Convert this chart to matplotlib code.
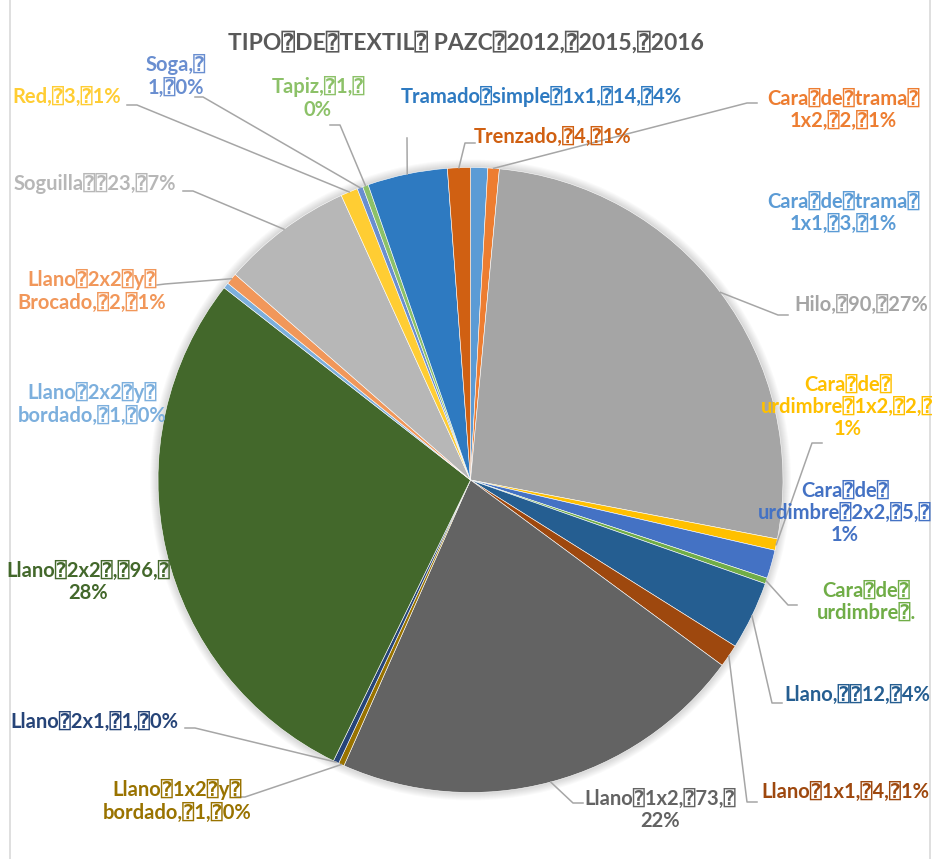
import matplotlib
matplotlib.use("Agg")
import matplotlib.pyplot as plt
from matplotlib.patches import Circle
import numpy as np

B = "\u2370"  # the tofu box that stands in for spaces in the original

categories = ["Cara de trama 1x1", "Cara de trama 1x2", "Hilo", "Cara de urdimbre 1x2",
              "Cara de urdimbre 2x2", "Cara de urdimbre", "Llano", "Llano 1x1", "Llano 1x2",
              "Llano 1x2 y bordado", "Llano 2x1", "Llano 2x2", "Llano 2x2 y bordado",
              "Llano 2x2 y Brocado", "Soguilla", "Red", "Soga", "Tapiz",
              "Tramado simple 1x1", "Trenzado"]
values = [3, 2, 90, 2, 5, 1, 12, 4, 73, 1, 1, 96, 1, 2, 23, 3, 1, 1, 14, 4]
colors = ["#5B9BD5", "#ED7D31", "#A5A5A5", "#FFC000", "#4472C4", "#70AD47",
          "#255E91", "#9E480E", "#636363", "#997300", "#264478", "#43682B",
          "#7CAFDD", "#F1975A", "#B7B7B7", "#FFCD33", "#698ED0", "#8CC168",
          "#2E7AC1", "#D06012"]
labels = [
    f"Cara{B}de{B}trama{B}\n1x1,{B}3,{B}1%",
    f"Cara{B}de{B}trama{B}\n1x2,{B}2,{B}1%",
    f"Hilo,{B}90,{B}27%",
    f"Cara{B}de{B}\nurdimbre{B}1x2,{B}2,{B}\n1%",
    f"Cara{B}de{B}\nurdimbre{B}2x2,{B}5,{B}\n1%",
    f"Cara{B}de{B}\nurdimbre{B}.",
    f"Llano,{B}{B}12,{B}4%",
    f"Llano{B}1x1,{B}4,{B}1%",
    f"Llano{B}1x2,{B}73,{B}\n22%",
    f"Llano{B}1x2{B}y{B}\nbordado,{B}1,{B}0%",
    f"Llano{B}2x1,{B}1,{B}0%",
    f"Llano{B}2x2{B},{B}96,{B}\n28%",
    f"Llano{B}2x2{B}y{B}\nbordado,{B}1,{B}0%",
    f"Llano{B}2x2{B}y{B}\nBrocado,{B}2,{B}1%",
    f"Soguilla{B}{B}23,{B}7%",
    f"Red,{B}3,{B}1%",
    f"Soga,{B}\n1,{B}0%",
    f"Tapiz,{B}1,{B}\n0%",
    f"Tramado{B}simple{B}1x1,{B}14,{B}4%",
    f"Trenzado,{B}4,{B}1%",
]
title = f"TIPO{B}DE{B}TEXTIL{B} PAZC{B}2012,{B}2015,{B}2016"

# layout in pixels (y measured from top)
label_pos = [(843, 213), (843, 110), (861, 305), (848, 407), (845, 513), (866, 602),
             (857, 695), (845, 792), (660, 810), (177, 801), (94, 722), (88, 582),
             (92, 404), (92, 291), (95, 183), (67, 97), (176, 76), (318, 98),
             (541, 96), (553, 137)]
leaders = [None, ((747, 103), (757, 103)), ((778, 315), (788, 315)),
           ((812, 443), (822, 443)), None, ((788, 605), (797, 605)),
           ((772, 703), (782, 703)), ((747, 802), (757, 802)),
           ((573, 803), (583, 803)), ((245, 797), (235, 797)),
           ((195, 728), (185, 728)), None, None, ((165, 284), (157, 285)),
           ((193, 191), (183, 191)), ((137, 105), (127, 105)),
           ((203, 97), (195, 97)), ((340, 125), (330, 125)),
           ((407, 138), (407, 138)), ((465, 143), (475, 143))]

FONT = ["Lato", "DejaVu Sans", "DejaVu Sans Mono"]
W, H = 932, 859
fig = plt.figure(figsize=(W / 100, H / 100), dpi=100)
ax = fig.add_axes([0, 0, 1, 1])
cx, cy, R = 470.5, H - 480, 312.5

# soft shadow round the pie
for k in range(1, 9):
    ax.add_patch(Circle((cx, cy), R + k, color="black", alpha=0.018, lw=0, zorder=0))

wedges, _ = ax.pie(values, colors=colors, startangle=90, counterclock=False,
                   radius=R, center=(cx, cy),
                   wedgeprops=dict(edgecolor="white", linewidth=0.4))
for w in wedges:
    w.set_zorder(2)

for w, lab, col, pos, ld in zip(wedges, labels, colors, label_pos, leaders):
    ax.text(pos[0], H - pos[1], lab, ha="center", va="center", color=col,
            fontsize=14.5, fontweight="bold", family=FONT, linespacing=1.15, zorder=4)
    if ld is not None:
        a = np.deg2rad((w.theta1 + w.theta2) / 2)
        sx, sy = cx + R * np.cos(a), cy + R * np.sin(a)
        (kx, ky), (ex, ey) = ld
        ax.plot([sx, kx, ex], [sy, H - ky, H - ey], color="#A6A6A6", lw=1.1, zorder=3)

# chart area border
ax.plot([10, 10], [0, H], color="#D9D9D9", lw=1.2)
ax.plot([930, 930], [0, H], color="#D9D9D9", lw=1.2)

fig.text(466 / W, 1 - 42 / H, title, ha="center", va="center", fontsize=16.5,
         fontweight="bold", color="#595959", family=FONT)

ax.set_xlim(0, W)
ax.set_ylim(0, H)
ax.set_aspect("auto")
ax.axis("off")
fig.savefig("out.png", dpi=100)
